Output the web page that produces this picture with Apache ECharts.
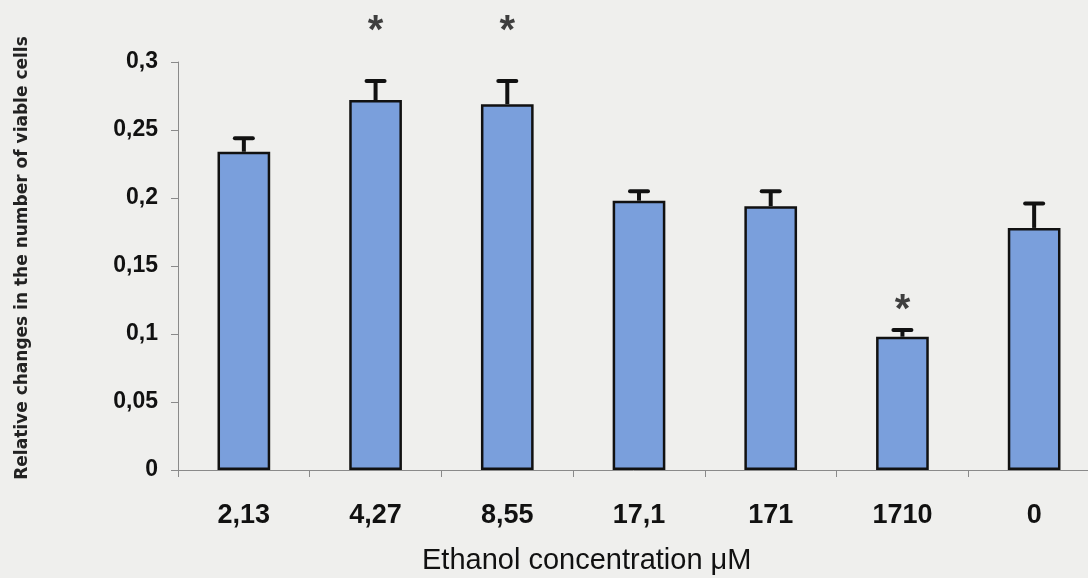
<!DOCTYPE html>
<html>
<head>
<meta charset="utf-8">
<script src="https://cdn.jsdelivr.net/npm/echarts@6/dist/echarts.min.js"></script>
<style>
html,body{margin:0;padding:0;background:#efefed;}
#chart{width:1088px;height:578px;}
</style>
</head>
<body>
<div id="chart"></div>
<script>
const categories = ['2,13', '4,27', '8,55', '17,1', '171', '1710', '0'];
const means = [0.234, 0.272, 0.269, 0.198, 0.194, 0.098, 0.178];
const errors = [0.010, 0.014, 0.017, 0.007, 0.011, 0.005, 0.018];
const starHeights = [null, 0.322, 0.322, null, null, 0.117, null];
const yTicks = [0, 0.05, 0.1, 0.15, 0.2, 0.25, 0.3];

const chart = echarts.init(document.getElementById('chart'));
const errData = means.map((m, i) => [i, m, errors[i]]);
const starData = starHeights.map((v, i) => v == null ? null : [i, v]).filter(d => d);

chart.setOption({
  backgroundColor: '#efefed',
  animation: false,
  title: {
    text: 'Ethanol concentration \u03bcM',
    left: 422,
    top: 546,
    padding: 0,
    textStyle: {fontFamily: 'Liberation Sans, Arial', fontSize: 29, fontWeight: 'normal', color: '#111'}
  },
  grid: {left: 178, top: 62, width: 922, height: 408, outerBoundsMode: 'none', containLabel: false},
  xAxis: {
    type: 'category',
    data: categories,
    axisLine: {lineStyle: {color: '#8a8a8a', width: 1}},
    axisTick: {show: true, length: 7, lineStyle: {color: '#8a8a8a'}},
    axisLabel: {fontFamily: 'Liberation Sans, Arial', fontWeight: 'bold', fontSize: 27, color: '#111', margin: 32}
  },
  yAxis: {
    type: 'value',
    min: 0, max: 0.3, interval: 0.05,
    name: 'Relative changes in the number of viable cells',
    nameLocation: 'middle',
    nameRotate: 90,
    nameGap: 147,
    nameTextStyle: {fontFamily: 'DejaVu Sans', fontWeight: 'bold', fontSize: 17, color: '#222', padding: [0, 0, 0, 16]},
    axisLine: {show: true, lineStyle: {color: '#8a8a8a', width: 1}},
    axisTick: {show: true, length: 7, lineStyle: {color: '#8a8a8a'}},
    splitLine: {show: false},
    axisLabel: {
      fontFamily: 'Liberation Sans, Arial', fontWeight: 'bold', fontSize: 23, color: '#111', margin: 20,
      formatter: v => {
        const t = yTicks.find(x => Math.abs(x - v) < 1e-9);
        return String(t != null ? t : v).replace('.', ',');
      }
    }
  },
  series: [
    {
      type: 'bar',
      data: means,
      barWidth: '40%',
      itemStyle: {color: '#7a9fdc', borderColor: '#111', borderWidth: 2.5}
    },
    {
      type: 'custom',
      data: errData,
      z: 5,
      renderItem: (params, api) => {
        const i = api.value(0), m = api.value(1), e = api.value(2);
        const base = api.coord([i, m]);
        const top = api.coord([i, m + e]);
        return {
          type: 'group',
          children: [
            {type: 'line', shape: {x1: base[0], y1: base[1], x2: top[0], y2: top[1]}, style: {stroke: '#111', lineWidth: 4}},
            {type: 'line', shape: {x1: top[0] - 9, y1: top[1], x2: top[0] + 9, y2: top[1]}, style: {stroke: '#111', lineWidth: 4, lineCap: 'round'}}
          ]
        };
      }
    },
    {
      type: 'scatter',
      data: starData,
      symbolSize: 0,
      clip: false,
      label: {show: true, position: 'inside', formatter: '*', fontFamily: 'Liberation Sans, Arial', fontWeight: 'bold', fontSize: 40, color: '#111'}
    }
  ]
});
</script>
</body>
</html>
